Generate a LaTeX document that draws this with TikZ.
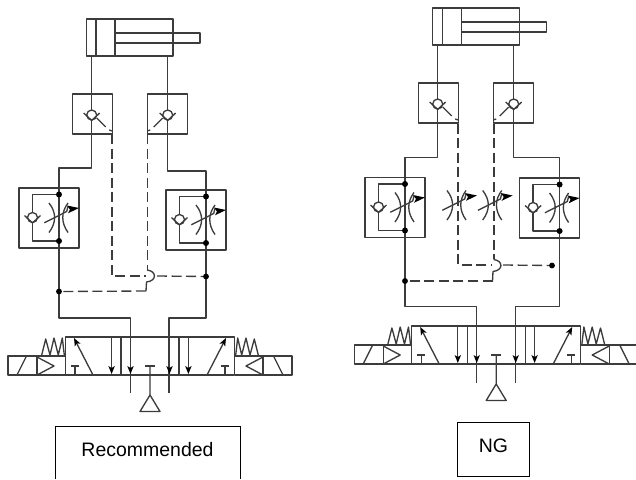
\documentclass[tikz,border=0pt]{standalone}
\usepackage{fontspec}
\setmainfont{Liberation Sans}
\usetikzlibrary{arrows.meta}
\definecolor{pipegray}{RGB}{60,60,60}
\tikzset{
  pipe/.style={draw=pipegray,line width=1pt,line join=round},
  pilot/.style={pipe,dash pattern={on 7.5pt off 3.4pt}},
  jdot/.style={circle,fill=black,inner sep=0pt,minimum size=4.4pt},
  labelbox/.style={draw=black,line width=0.7pt},
  labeltext/.style={font=\fontsize{14.6}{17}\selectfont},
}
\newcommand{\flowhead}[2]{\fill[black,shift={#1},rotate=#2] (0,0) -- (-8,3.2) -- (-6,0) -- (-8,-3.2) -- cycle;}
\newcommand{\checkvalve}[1]{\begin{scope}[#1]
  \draw[pipe,fill=white] (0,0) circle (5);
  \draw[pipe] (-8,-2) -- (0,5.5) -- (8,-2);
\end{scope}}
\newcommand{\throttlesym}[1]{\begin{scope}[#1]
  \draw[pipe] (-10,-14.5) .. controls (-2.5,-5) and (-2.5,5) .. (-10,15);
  \draw[pipe] (9,-14.5) .. controls (2,-5) and (2,5) .. (9,15);
  \draw[pipe] (-14.7,5.3) -- (7.7,-6) -- (9,-11);
  \fill[black] (8,-12) -- (20,-9.5) -- (9,-4.2) -- (11,-8) -- cycle;
\end{scope}}
\newcommand{\flowbox}[1]{\begin{scope}[#1]
  \draw[pipe] (-40,-29.5) rectangle (20,30.5);
  \draw[pipe] (0,-23) -- (-26.5,-23) -- (-26.5,23.5) -- (0,23.5);
  \checkvalve{shift={(-26.5,0)}}
  \throttlesym{shift={(0,0)}}
  \fill[black] (0,-23) circle (3);
  \fill[black] (0,23.5) circle (3);
\end{scope}}
\newcommand{\pilotbox}[1]{\begin{scope}[#1]
  \draw[pipe] (-19.5,-21) rectangle (20.5,19);
  \checkvalve{shift={(0,0)}}
  \draw[pipe] (5,3) -- (14,12);
  \draw[pipe] (17.5,15) -- (20.5,16);
\end{scope}}
\newcommand{\cylindersym}[1]{\begin{scope}[#1]
  \draw[pipe] (0,0) rectangle (86.5,37);
  \draw[pipe] (9.5,0) -- (9.5,37);
  \draw[pipe] (28.5,0) -- (28.5,37);
  \draw[pipe] (28.5,14) -- (113.5,14) -- (113.5,24) -- (28.5,24);
\end{scope}}
\newcommand{\valvehalf}[1]{\begin{scope}[#1]
  \draw[pipe] (0,0) -- (-84.5,0) -- (-84.5,-38) -- (0,-38);
  \draw[pipe] (-29,-38) -- (-29,0);
  \draw[pipe] (-38.4,-38) -- (-38.4,-3);
  \flowhead{(-38.4,-1)}{90}
  \draw[pipe] (-19.5,-38) -- (-19.5,-3);
  \flowhead{(-19.5,-1)}{90}
  \draw[pipe] (-57,0) -- (-74,-33);
  \flowhead{(-76,-37)}{242.7}
  \draw[pipe] (-75,0) -- (-75,-9);
  \draw[pipe] (-79,-9) -- (-71,-9);
  %solenoid
  \draw[pipe] (-84.5,-19) -- (-142,-19) -- (-142,0) -- (-84.5,0);
  \draw[pipe] (-113,-19) -- (-113,0);
  \draw[pipe] (-133,0) -- (-123.5,-19);
  \draw[pipe] (-113,-18) -- (-96,-9) -- (-113,0);
  %spring
  \draw[pipe] (-108.3,-20) -- (-104.3,-36) -- (-100,-20) -- (-96,-37) -- (-91.7,-20) -- (-87.7,-37) -- (-85.7,-20);
\end{scope}}
\newcommand{\valvesym}[1]{\begin{scope}[#1]
  \valvehalf{xscale=1}
  \valvehalf{xscale=-1}
  \draw[pipe] (-5,-9) -- (5,-9);
  \draw[pipe] (0,-9) -- (0,20) -- (-10,36.5) -- (10,36.5) -- (0,20);
\end{scope}}
\begin{document}
\begin{tikzpicture}[x=0.75pt,y=0.75pt,yscale=-1,xscale=1]
\clip (0,0) rectangle (636,479);

%Straight Lines: Recommended
\draw[pipe] (91.7,56) -- (91.7,168) -- (59,168) -- (59,318) -- (130.5,318) -- (130.5,393);
\draw[pipe] (167.7,56) -- (167.7,171) -- (206,171) -- (206,318) -- (169,318) -- (169,393);
%Straight Lines: NG
\draw[pipe] (437.7,45) -- (437.7,157.5) -- (405,157.5) -- (405,306.7) -- (476.7,306.7) -- (476.7,382.7);
\draw[pipe] (513.7,45) -- (513.7,157.5) -- (559.6,157.5) -- (559.6,306.7) -- (515.2,306.7) -- (515.2,382.7);

%Shape: Recommended
\cylindersym{shift={(86.5,19)}}
\pilotbox{shift={(91.7,115)}}
\pilotbox{shift={(167.7,115)},xscale=-1}
\flowbox{shift={(59,217.5)}}
\flowbox{shift={(206,219.5)}}
\valvesym{shift={(150,375)}}
%Shape: NG
\cylindersym{shift={(432.7,8)}}
\pilotbox{shift={(437.7,104)}}
\pilotbox{shift={(513.7,104)},xscale=-1}
\flowbox{shift={(405,207)}}
\flowbox{shift={(559.6,207.5)}}
\throttlesym{shift={(457,205)}}
\throttlesym{shift={(492.7,205)}}
\valvesym{shift={(496.2,364)}}

%Junctions
\node[jdot] (dotRecRight) at (206,276.5) {};
\node[jdot] (dotRecLeft) at (59,291.5) {};
\node[jdot] (dotNgRight) at (552,265.5) {};
\node[jdot] (dotNgLeft) at (405,281) {};

%Pilot lines: Recommended
\draw[pilot] (112,134) -- (112,276) -- (146,276);
\draw[pilot] (157,276) -- (dotRecRight);
\draw[pilot] (147.5,134) -- (147.5,270);
\draw[pipe] (147,270) .. controls (157,271) and (157,281) .. (146.5,282) -- (146,291);
\draw[pilot] (146,291) -- (dotRecLeft);
%Pilot lines: NG
\draw[pilot] (458,123.5) -- (458,265) -- (491,265);
\draw[pilot] (503,265) -- (dotNgRight);
\draw[pilot] (494,123.5) -- (494,259);
\draw[pipe] (493.5,259.5) .. controls (503.5,260.5) and (503.5,270.5) .. (493,271.5) -- (492.5,281);
\draw[pilot] (492.5,281) -- (dotNgLeft);

% Text Node
\draw[labelbox] (55,479) -- (55,426) -- (240,426) -- (240,479);
\node[labeltext] (recommended) at (147.5,449.5) {Recommended};
\node[labelbox,minimum width=54.3pt,minimum height=40.8pt] (ng) at (493.5,449.5) {};
\node[labeltext] (ngtext) at (ng.center) [yshift=2.7pt] {NG};
\end{tikzpicture}
\end{document}
